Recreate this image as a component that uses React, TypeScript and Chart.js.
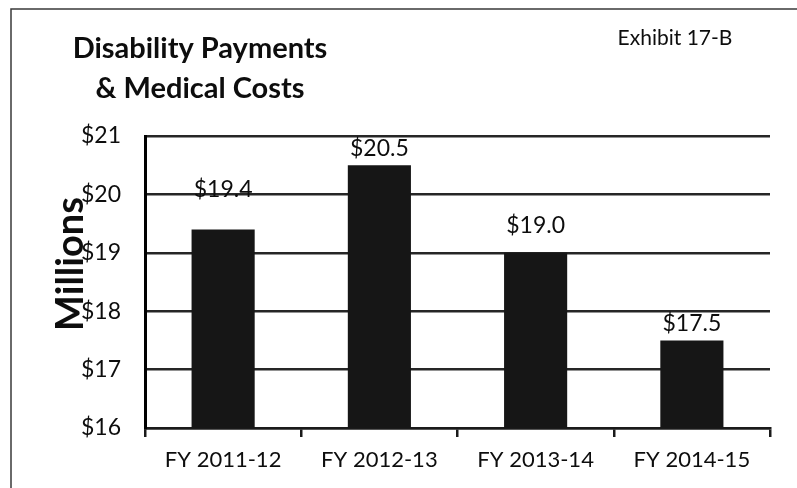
import React, { useEffect, useRef } from "react";
import { Chart, registerables } from "chart.js";

Chart.register(...registerables);

const categories = ["FY 2011-12", "FY 2012-13", "FY 2013-14", "FY 2014-15"];
const values = [19.4, 20.5, 19.0, 17.5];
const yTicks = [16, 17, 18, 19, 20, 21];
const titleLines = ["Disability Payments", "& Medical Costs"];
const exhibitLabel = "Exhibit 17-B";
const yAxisTitle = "Millions";

const FONT = "Lato, 'Open Sans', sans-serif";
const INK = "#0d0d0d";

const decorPlugin = {
  id: "decor",
  beforeDraw(chart: any) {
    const { ctx, width, height } = chart;
    ctx.save();
    ctx.fillStyle = "#ffffff";
    ctx.fillRect(0, 0, width, height);
    // outer frame
    ctx.strokeStyle = "#3a3a3a";
    ctx.lineWidth = 1.5;
    ctx.beginPath();
    ctx.moveTo(11, height);
    ctx.lineTo(11, 9);
    ctx.lineTo(width, 9);
    ctx.stroke();
    ctx.restore();
  },
  afterDraw(chart: any) {
    const { ctx, chartArea } = chart;
    ctx.save();
    ctx.fillStyle = INK;
    // title
    ctx.font = `bold 29px ${FONT}`;
    ctx.textAlign = "center";
    ctx.textBaseline = "alphabetic";
    ctx.fillText(titleLines[0], 200, 58);
    ctx.fillText(titleLines[1], 200, 97.5);
    // exhibit
    ctx.font = `21px ${FONT}`;
    ctx.textAlign = "center";
    ctx.fillText(exhibitLabel, 675, 45);
    // y axis title
    ctx.save();
    ctx.translate(83, (chartArea.top + chartArea.bottom) / 2 - 18);
    ctx.rotate(-Math.PI / 2);
    ctx.font = `bold 38px ${FONT}`;
    ctx.textAlign = "center";
    ctx.textBaseline = "alphabetic";
    ctx.fillText(yAxisTitle, 0, 0);
    ctx.restore();
    ctx.restore();
  },
};

const labelPlugin = {
  id: "barLabels",
  afterDatasetsDraw(chart: any, _args: any, opts: any) {
    const { ctx } = chart;
    const meta = chart.getDatasetMeta(0);
    const lifts: number[] = opts.lifts || [];
    ctx.save();
    ctx.fillStyle = INK;
    ctx.font = `23px ${FONT}`;
    ctx.textAlign = "center";
    ctx.textBaseline = "middle";
    meta.data.forEach((bar: any, i: number) => {
      const v = chart.data.datasets[0].data[i] as number;
      ctx.fillText("$" + v.toFixed(1), bar.x, bar.y - (lifts[i] ?? 18));
    });
    ctx.restore();
  },
};

export default function App() {
  const ref = useRef<HTMLCanvasElement | null>(null);

  useEffect(() => {
    document.body.style.margin = "0";
    if (!ref.current) return;
    const chart = new Chart(ref.current, {
      type: "bar",
      data: {
        labels: categories,
        datasets: [
          {
            data: values,
            backgroundColor: "#161616",
            borderWidth: 0,
            barPercentage: 0.404,
            categoryPercentage: 1,
          },
        ],
      },
      plugins: [decorPlugin, labelPlugin],
      options: {
        animation: false,
        responsive: true,
        maintainAspectRatio: false,
        devicePixelRatio: 1,
        layout: { padding: { top: 136, right: 27, left: 0, bottom: 0 } },
        plugins: {
          legend: { display: false },
          tooltip: { enabled: false },
          title: { display: false },
          barLabels: { lifts: [40, 17, 27, 17] },
        } as any,
        scales: {
          x: {
            offset: true,
            grid: {
              display: true,
              offset: true,
              drawOnChartArea: false,
              drawTicks: true,
              tickLength: 9,
              color: "#1a1a1a",
              lineWidth: 2.5,
            },
            border: { display: true, color: "#1a1a1a", width: 2.5 },
            ticks: {
              color: INK,
              font: { family: FONT, size: 22 },
              padding: 10,
              maxRotation: 0,
            },
            afterFit: (s: any) => {
              s.height = 60;
            },
          },
          y: {
            min: yTicks[0],
            max: yTicks[yTicks.length - 1],
            afterBuildTicks: (s: any) => {
              s.ticks = yTicks.map((v) => ({ value: v }));
            },
            grid: {
              color: "#262626",
              lineWidth: 2.5,
              drawTicks: false,
            },
            border: { display: true, color: "#000000", width: 3 },
            ticks: {
              color: INK,
              font: { family: FONT, size: 23 },
              padding: 24,
              callback: (v: any) => "$" + v,
            },
            afterFit: (s: any) => {
              s.width = 145;
            },
          },
        },
      },
    });
    return () => chart.destroy();
  }, []);

  return (
    <div style={{ width: 797, height: 488, position: "relative" }}>
      <canvas ref={ref} />
    </div>
  );
}
